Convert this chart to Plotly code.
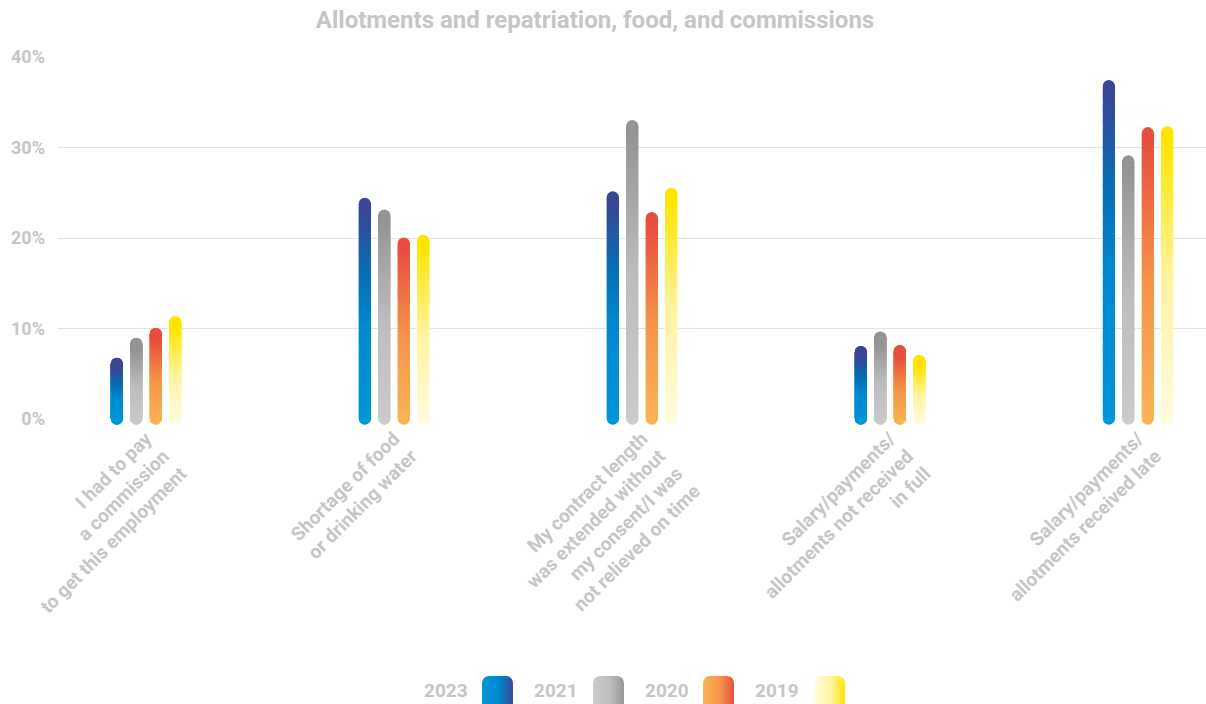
import base64
import numpy as np
import plotly.graph_objects as go

# ---- data -------------------------------------------------------------
categories = [
    "I had to pay<br>a commission<br>to get this employment",
    "Shortage of food<br>or drinking water",
    "My contract length<br>was extended without<br>my consent/I was<br>not relieved on time",
    "Salary/payments/<br>allotments not received<br>in full",
    "Salary/payments/<br>allotments received late",
]
years = ["2023", "2021", "2020", "2019"]
values_2023 = [6.1, 23.8, 24.5, 7.4, 36.8]
values_2021 = [8.3, 22.5, 32.4, 9.0, 28.5]
values_2020 = [9.4, 19.4, 22.2, 7.5, 31.6]
values_2019 = [10.7, 19.7, 24.9, 6.4, 31.7]
y_ticks = [0, 10, 20, 30, 40]
y_tick_labels = ["0%", "10%", "20%", "30%", "40%"]

series = [values_2023, values_2021, values_2020, values_2019]

# vertical gradients (bottom -> top) for each year
colorscales = [
    [[0, "#0096D8"], [0.45, "#008ACF"], [0.72, "#0A6DB3"], [1, "#3C4697"]],
    [[0, "#CBCBCB"], [0.5, "#BDBDBD"], [1, "#949494"]],
    [[0, "#F9B556"], [0.5, "#F59549"], [1, "#E84E3D"]],
    [[0, "#FFFBE0"], [0.5, "#FFF3A2"], [1, "#FFE500"]],
]
# horizontal gradients used by the legend swatches (left -> right)
swatch_stops = [
    ["#0096D8", "#0088CE", "#3C4697"],
    ["#CBCBCB", "#BDBDBD", "#979797"],
    ["#F8B556", "#F59549", "#E84E3D"],
    ["#FFFBE0", "#FFF3A2", "#FFE500"],
]

TEXT = "#C6C6C6"
FONT = "Roboto"
GRID = "#E2E2E2"

W, H = 1206, 704
M_L, M_R, M_T, M_B = 58, 0, 57, 285
plot_w = W - M_L - M_R
plot_h = H - M_T - M_B

group_step = 0.0786   # spacing between bars inside a group (x units)
n_samples = 360       # markers per bar to build a smooth gradient column

fig = go.Figure()
for k, (name, vals) in enumerate(zip(years, series)):
    xs, ys, cs = [], [], []
    for i, v in enumerate(vals):
        t = np.linspace(0.0, 1.0, n_samples)
        xs.append(np.full(n_samples, i + (k - 1.5) * group_step))
        ys.append(t * v)
        cs.append(t)
    fig.add_trace(go.Scatter(
        x=np.concatenate(xs), y=np.concatenate(ys),
        mode="markers", name=name, showlegend=False, hoverinfo="skip",
        cliponaxis=False,
        marker=dict(size=12, color=np.concatenate(cs), cmin=0, cmax=1,
                    colorscale=colorscales[k], line=dict(width=0),
                    symbol="circle"),
    ))

fig.update_xaxes(
    range=[-0.355, 4.274], tickmode="array",
    tickvals=list(range(len(categories))), ticktext=categories,
    tickangle=-45, showgrid=False, zeroline=False, showline=False,
    ticklabeloverflow="allow", ticklabelstandoff=4,
    tickfont=dict(family=FONT, size=19, color=TEXT, weight="bold"),
)
fig.update_yaxes(
    range=[-0.02, 40.02], tickmode="array", tickvals=y_ticks,
    ticktext=y_tick_labels, showgrid=True, gridcolor=GRID, gridwidth=1,
    zeroline=False, showline=False, ticklabelstandoff=12,
    tickfont=dict(family=FONT, size=18, color=TEXT, weight="bold"),
)


def swatch_uri(stops):
    svg = (
        '<svg xmlns="http://www.w3.org/2000/svg" width="31" height="28">'
        '<defs><linearGradient id="g" x1="0" x2="1" y1="0" y2="0">'
        f'<stop offset="0" stop-color="{stops[0]}"/>'
        f'<stop offset="0.55" stop-color="{stops[1]}"/>'
        f'<stop offset="1" stop-color="{stops[2]}"/>'
        '</linearGradient></defs>'
        '<rect x="0" y="0" width="31" height="34" rx="7" ry="7" fill="url(#g)"/>'
        '</svg>'
    )
    return "data:image/svg+xml;base64," + base64.b64encode(svg.encode()).decode()


def px_to_paper(px, py):
    return (px - M_L) / plot_w, (H - M_B - py) / plot_h


# legend row: year label followed by its gradient swatch
legend_text_right = [470, 580, 691, 801]
legend_swatch_left = [482, 593, 703, 814]
legend_y = 690
for k, name in enumerate(years):
    tx, ty = px_to_paper(legend_text_right[k], legend_y)
    fig.add_annotation(
        x=tx, y=ty, xref="paper", yref="paper", text=name, showarrow=False,
        xanchor="right", yanchor="middle",
        font=dict(family=FONT, size=19, color=TEXT, weight="bold"),
    )
    sx, sy = px_to_paper(legend_swatch_left[k], 676)
    fig.add_layout_image(
        source=swatch_uri(swatch_stops[k]), xref="paper", yref="paper",
        x=sx, y=sy, sizex=31 / plot_w, sizey=28 / plot_h,
        xanchor="left", yanchor="top", sizing="stretch", layer="above",
    )

fig.update_layout(
    width=W, height=H,
    margin=dict(l=M_L, r=M_R, t=M_T, b=M_B, autoexpand=False),
    paper_bgcolor="white", plot_bgcolor="white",
    showlegend=False,
    title=dict(
        text="Allotments and repatriation, food, and commissions",
        x=595 / W, xref="container", xanchor="center",
        y=1 - 20 / H, yref="container", yanchor="middle",
        font=dict(family=FONT, size=24, color=TEXT, weight="bold"),
    ),
)

fig.write_html("out.html")
